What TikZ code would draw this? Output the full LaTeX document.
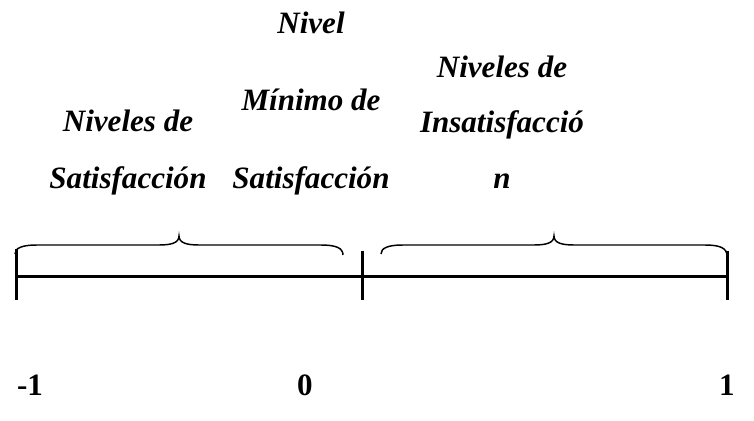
\documentclass[tikz,border=0pt]{standalone}
\usepackage{fontspec}
\setmainfont{Liberation Serif}
\usepackage{tikz}

\begin{document}
\begin{tikzpicture}[x=0.75pt,y=0.75pt,yscale=-1,xscale=1,
  txtlbl/.style={anchor=base,inner sep=0.75pt,align=center,font=\fontsize{23.3}{41.6}\selectfont\bfseries\itshape},
  numlbl/.style={anchor=base,inner sep=0.75pt,font=\fontsize{23.3}{28}\selectfont\bfseries},
  axisln/.style={line width=2.25pt},
  bracln/.style={line width=1.1pt}]
\useasboundingbox (0,0) rectangle (754,421);

%Points of the axis
\coordinate (pneg) at (16,276);
\coordinate (pzero) at (362,276);
\coordinate (pone) at (727,276);

%Shape: Axis
\draw [axisln]  (pneg) -- (pone) ;
%Shape: Ticks
\draw [axisln]  ([yshift=-20]pneg) -- ([yshift=18]pneg) ;
\draw [axisln]  ([yshift=-19]pzero) -- ([yshift=18]pzero) ;
\draw [axisln]  ([yshift=-19]pone) -- ([yshift=18]pone) ;

%Shape: Left Brace
\draw [bracln]  (15,254) .. controls (15,248) and (22,245) .. (37,245) -- (159,245) .. controls (171,245) and (179,243) .. (179,236) .. controls (179,243) and (187,245) .. (199,245) -- (321,245) .. controls (336,245) and (343,248) .. (343,255) ;
%Shape: Right Brace
\draw [bracln]  (381,254) .. controls (381,248) and (388,245) .. (403,245) -- (534,245) .. controls (546,245) and (554,243) .. (554,236) .. controls (554,243) and (562,245) .. (574,245) -- (705,245) .. controls (720,245) and (727,248) .. (727,256) ;

% Text Node
\draw (128,188) node (satis) [txtlbl] {Niveles de\\[1pt]Satisfacción};
% Text Node
\draw (311,188) node (minimo) [txtlbl] {Nivel\\[16.5pt]Mínimo de\\[16.5pt]Satisfacción};
% Text Node
\draw (502,188) node (insatis) [txtlbl] {Niveles de\\Insatisfacció\\n};

% Text Node
\draw (30,395) node (lblneg) [numlbl] {-1};
% Text Node
\draw (305,395) node (lblzero) [numlbl] {0};
% Text Node
\draw (727,395) node (lblone) [numlbl] {1};

\end{tikzpicture}
\end{document}
